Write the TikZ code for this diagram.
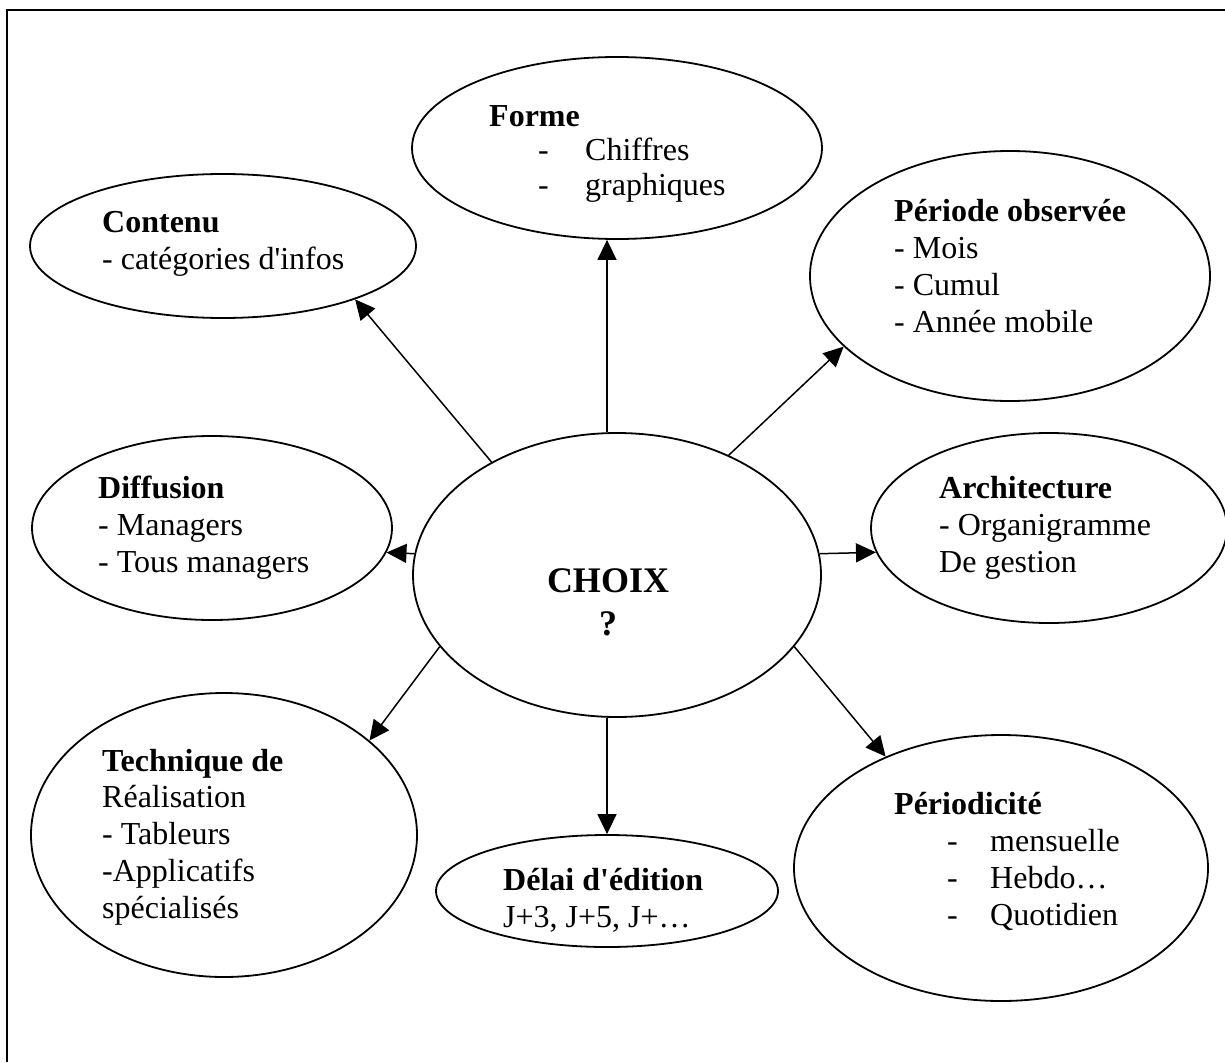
\documentclass[tikz,border=0pt]{standalone}
\usepackage{fontspec}
\newfontfamily\tnr{Liberation Serif}
\usetikzlibrary{shapes.geometric,arrows.meta}
\begin{document}
\begin{tikzpicture}[x=1pt,y=-1pt,
  ell/.style={draw,ellipse,line width=1.8pt,inner sep=0pt},
  lbl/.style={anchor=base west,align=left,inner sep=0pt,font=\tnr\fontsize{32}{36.7}\selectfont},
  big/.style={anchor=base,inner sep=0pt,font=\tnr\bfseries\fontsize{36}{43}\selectfont},
  arr/.style={line width=1.5pt,-{Triangle[length=20pt,width=19pt]}}]
\useasboundingbox (0,0) rectangle (1225,1062);
\draw[line width=2.5pt] (7,1062) -- (7,10) -- (1225,10);
% ellipses
\node[ell,minimum width=386pt,minimum height=144pt] (contenu) at (223,246) {};
\node[ell,minimum width=410pt,minimum height=182pt] (forme) at (617,148) {};
\node[ell,minimum width=400pt,minimum height=250pt] (periode) at (1010,276) {};
\node[ell,minimum width=360pt,minimum height=184pt] (diffusion) at (212,528) {};
\node[ell,minimum width=408pt,minimum height=284pt] (choix) at (617,575) {};
\node[ell,minimum width=356pt,minimum height=190pt] (archi) at (1049,528) {};
\node[ell,minimum width=386pt,minimum height=284pt] (technique) at (224,835) {};
\node[ell,minimum width=342pt,minimum height=112pt] (delai) at (607,891) {};
\node[ell,minimum width=414pt,minimum height=266pt] (periodicite) at (1001,868) {};
% texts (anchored at the baseline of their last line)
\node[lbl] (contenu-t) at (102,269) {\textbf{Contenu}\\- catégories d'infos};
\node[lbl,font=\tnr\fontsize{32}{34.5}\selectfont] (forme-t) at (489,195) {\textbf{Forme}\\\hspace*{49pt}\makebox[47pt][l]{-}Chiffres\\\hspace*{49pt}\makebox[47pt][l]{-}graphiques};
\node[lbl] (periode-t) at (894,332) {\textbf{Période observée}\\- Mois\\- Cumul\\- Année mobile};
\node[lbl] (diffusion-t) at (98,572) {\textbf{Diffusion}\\- Managers\\- Tous managers};
\node[lbl] (archi-t) at (939,572) {\textbf{Architecture}\\- Organigramme\\De gestion};
\node[lbl] (technique-t) at (102,918) {\textbf{Technique de}\\Réalisation\\- Tableurs\\-Applicatifs\\spécialisés};
\node[lbl] (delai-t) at (503,927) {\textbf{Délai d'édition}\\J+3, J+5, J+…};
\node[lbl] (periodicite-t) at (894,925) {\textbf{Périodicité}\\\hspace*{53pt}\makebox[43pt][l]{-}mensuelle\\\hspace*{53pt}\makebox[43pt][l]{-}Hebdo…\\\hspace*{53pt}\makebox[43pt][l]{-}Quotidien};
\node[big] (choix-t) at (608,592) {CHOIX};
\node[big] (choix-q) at (608,635) {?};
% arrows
\draw[arr] (choix.138) -- (contenu.-22);
\draw[arr] ([xshift=-10pt]choix.north) -- ([xshift=-10pt]forme.south);
\draw[arr] (choix.47) -- (periode.203);
\draw[arr] (choix.174) -- (diffusion.-8);
\draw[arr] (choix.6) -- (archi.188);
\draw[arr] (choix.202) -- (technique.33);
\draw[arr] ([xshift=-10pt]choix.south) -- (delai.north);
\draw[arr] (choix.-22) -- (periodicite.136);
\end{tikzpicture}
\end{document}
